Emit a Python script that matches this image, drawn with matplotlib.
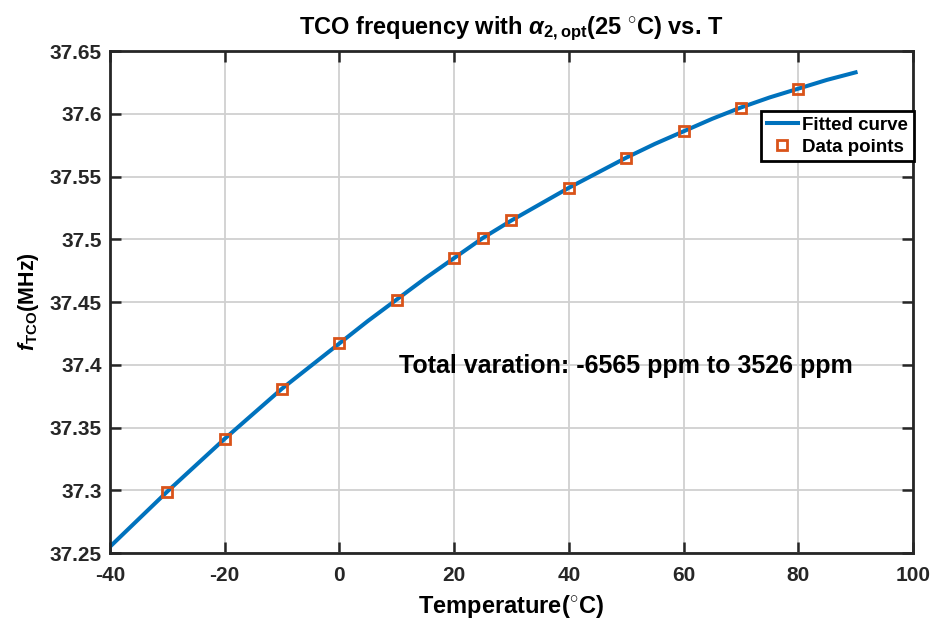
import matplotlib
matplotlib.use("Agg")
import matplotlib.pyplot as plt

plt.rcParams['font.family'] = ['Liberation Sans', 'DejaVu Sans']
plt.rcParams['font.weight'] = 'bold'
plt.rcParams['axes.unicode_minus'] = False
plt.rcParams['mathtext.fontset'] = 'custom'
plt.rcParams['mathtext.rm'] = 'Liberation Sans:bold'
plt.rcParams['mathtext.bf'] = 'Liberation Sans:bold'
plt.rcParams['mathtext.it'] = 'Liberation Sans:italic:bold'

blue = "#0072BD"
orange = "#D95319"

# measured points (deg C, MHz)
temps = [-30, -20, -10, 0, 10, 20, 25, 30, 40, 50, 60, 70, 80]
freqs = [37.299, 37.341, 37.381, 37.417, 37.452, 37.485, 37.501,
         37.515, 37.541, 37.565, 37.586, 37.605, 37.620]

# fitted curve
curve_t = [-40, -35, -30, -25, -20, -15, -10, -5, 0, 5, 10, 15, 20, 25, 30,
           35, 40, 45, 50, 55, 60, 65, 70, 75, 80, 85, 90]
curve_f = [37.255, 37.277, 37.299, 37.320, 37.341, 37.361, 37.381, 37.399,
           37.417, 37.435, 37.452, 37.469, 37.485, 37.501, 37.515, 37.528,
           37.541, 37.553, 37.565, 37.576, 37.586, 37.596, 37.605, 37.613,
           37.620, 37.627, 37.633]

fig = plt.figure(figsize=(9.35, 6.27), dpi=100)
ax = fig.add_axes([0.1176, 0.118, 0.8588, 0.8006])

ax.plot(curve_t, curve_f, color=blue, lw=2.9, label="Fitted curve")
ax.plot(temps, freqs, ls="none", marker="s", ms=7, mew=2,
        mec=orange, mfc="none", label="Data points")

ax.set_xlim(-40, 100)
ax.set_ylim(37.25, 37.65)
ax.set_xticks(range(-40, 101, 20))
ax.set_yticks([37.25, 37.3, 37.35, 37.4, 37.45, 37.5, 37.55, 37.6, 37.65])
ax.set_yticklabels(["37.25", "37.3", "37.35", "37.4", "37.45",
                    "37.5", "37.55", "37.6", "37.65"])
ax.grid(True, color="#d0d0d0", lw=1.3)
ax.set_axisbelow(True)
ax.tick_params(direction="in", top=True, right=True, length=8, width=1.8,
               labelsize=15, colors="#262626")
ax.tick_params(axis="x", pad=9)
ax.tick_params(axis="y", pad=6)
for s in ax.spines.values():
    s.set_linewidth(2)
    s.set_color("#262626")

ax.set_title(r"TCO frequency with $\alpha_{\mathrm{2,opt}}$(25 $^{\circ}$C) vs. T",
             fontsize=17, fontweight="bold", pad=12)
ax.set_xlabel(r"Temperature($^{\circ}$C)", fontsize=17, fontweight="bold", labelpad=6)
ax.set_ylabel(r"$f_{\mathrm{TCO}}$(MHz)", fontsize=15.5, fontweight="bold", labelpad=6)

ax.text(10.4, 37.399, "Total varation: -6565 ppm to 3526 ppm",
        fontsize=18, fontweight="bold", va="center", ha="left")

leg = ax.legend(loc="upper right", bbox_to_anchor=(1.001, 0.8805),
                fontsize=13.5, fancybox=False, framealpha=1,
                edgecolor="#000000", handlelength=1.65, borderpad=0.3,
                labelspacing=0.25, handletextpad=0.25, borderaxespad=0)
leg.get_frame().set_linewidth(2)

fig.savefig("out.png", dpi=100)
